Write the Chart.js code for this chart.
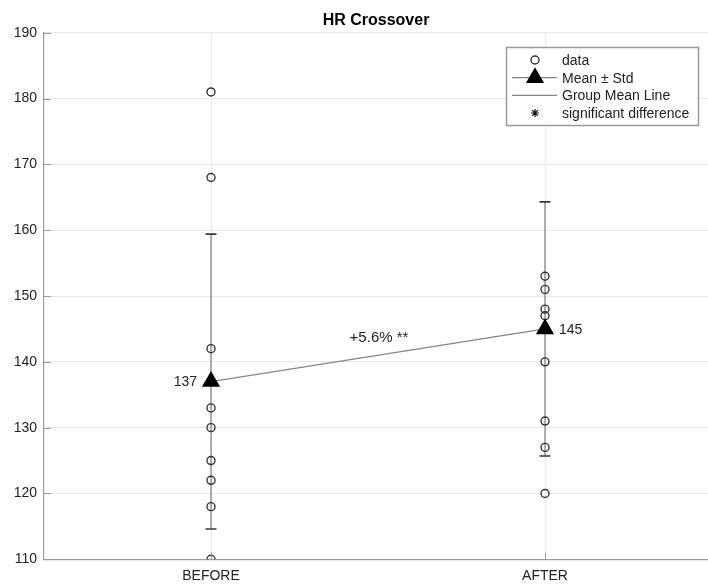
<!DOCTYPE html>
<html>
<head>
<meta charset="utf-8">
<title>HR Crossover</title>
<style>
  html, body { margin: 0; padding: 0; background: #ffffff; }
  #wrap { width: 708px; height: 584px; }
</style>
<script src="https://cdn.jsdelivr.net/npm/chart.js@4"></script>
</head>
<body>
<div id="wrap"><canvas id="hr" width="708" height="584"></canvas></div>
<script>
// Heart rate per subject in each condition
const categories = ['BEFORE', 'AFTER'];
const beforeValues = [181, 168, 142, 133, 130, 125, 122, 118, 110];
const afterValues = [153, 151, 148, 147, 140, 131, 127, 120];
// Group summary (mean and standard deviation)
const meanValues = [137, 145];
const stdValues = [22.4, 19.3];
const meanLabels = ['137', '145'];
const changeLabel = '+5.6% **';
const yTicks = [110, 120, 130, 140, 150, 160, 170, 180, 190];
const legendLabels = ['data', 'Mean \u00b1 Std', 'Group Mean Line', 'significant difference'];
const chartTitle = 'HR Crossover';

const FONT = "'Liberation Sans', Arial, Helvetica, sans-serif";
const TEXT = '#222222';
const AXIS = '#9a9a9a';

const pointsData = [];
beforeValues.forEach(v => pointsData.push({ x: 1, y: v }));
afterValues.forEach(v => pointsData.push({ x: 2, y: v }));

const meanData = meanValues.map((m, i) => ({ x: i + 1, y: m }));

function errorBar(i) {
  return {
    type: 'line',
    data: [
      { x: i + 1, y: meanValues[i] - stdValues[i] },
      { x: i + 1, y: meanValues[i] + stdValues[i] }
    ],
    borderColor: '#858585',
    borderWidth: 1.3,
    pointStyle: 'line',
    pointRadius: 5.5,
    pointBorderColor: '#3a3a3a',
    pointBorderWidth: 1.6,
    pointHoverRadius: 5.5,
    showLine: true,
    fill: false,
    order: 3
  };
}

// Inward MATLAB-style tick marks
const tickMarks = {
  id: 'tickMarks',
  afterDatasetsDraw(chart) {
    const { ctx, chartArea, scales } = chart;
    ctx.save();
    ctx.strokeStyle = AXIS;
    ctx.lineWidth = 1;
    yTicks.forEach(t => {
      const y = Math.round(scales.y.getPixelForValue(t)) + 0.5;
      ctx.beginPath();
      ctx.moveTo(chartArea.left, y);
      ctx.lineTo(chartArea.left + 7, y);
      ctx.stroke();
    });
    categories.forEach((c, i) => {
      const x = Math.round(scales.x.getPixelForValue(i + 1)) + 0.5;
      ctx.beginPath();
      ctx.moveTo(x, chartArea.bottom);
      ctx.lineTo(x, chartArea.bottom - 7);
      ctx.stroke();
    });
    ctx.restore();
  }
};

// Mean values and percent change text
const annotations = {
  id: 'annotations',
  afterDatasetsDraw(chart) {
    const { ctx, scales } = chart;
    ctx.save();
    ctx.fillStyle = TEXT;
    ctx.font = '14px ' + FONT;
    ctx.textBaseline = 'middle';
    const x1 = scales.x.getPixelForValue(1);
    const x2 = scales.x.getPixelForValue(2);
    ctx.textAlign = 'right';
    ctx.fillText(meanLabels[0], x1 - 14, scales.y.getPixelForValue(meanValues[0]) + 1);
    ctx.textAlign = 'left';
    ctx.fillText(meanLabels[1], x2 + 14, scales.y.getPixelForValue(meanValues[1]) + 1);
    ctx.textAlign = 'center';
    ctx.font = '15px ' + FONT;
    const midY = scales.y.getPixelForValue((meanValues[0] + meanValues[1]) / 2);
    ctx.fillText(changeLabel, (x1 + x2) / 2 + 1, midY - 17);
    ctx.restore();
  }
};

// Legend box in the upper right corner
const legendBox = {
  id: 'legendBox',
  afterDraw(chart) {
    const { ctx } = chart;
    const bx = 506, by = 47, bw = 192, bh = 78;
    ctx.save();
    ctx.fillStyle = '#ffffff';
    ctx.fillRect(bx, by, bw, bh);
    ctx.strokeStyle = '#9a9a9a';
    ctx.lineWidth = 1.5;
    ctx.strokeRect(bx + 0.5, by + 0.5, bw, bh);
    const rows = [60, 77.7, 95.4, 113];
    const sx = 535;
    // data: open circle
    ctx.strokeStyle = '#333333';
    ctx.lineWidth = 1.4;
    ctx.beginPath();
    ctx.arc(sx, rows[0], 4, 0, Math.PI * 2);
    ctx.stroke();
    // mean ± std: line with triangle
    ctx.strokeStyle = '#858585';
    ctx.lineWidth = 1.2;
    ctx.beginPath();
    ctx.moveTo(512, rows[1]);
    ctx.lineTo(557, rows[1]);
    ctx.stroke();
    const r = 10.5;
    ctx.fillStyle = '#000000';
    ctx.beginPath();
    ctx.moveTo(sx, rows[1] - r);
    ctx.lineTo(sx + r * Math.sin(Math.PI * 2 / 3), rows[1] + r / 2);
    ctx.lineTo(sx - r * Math.sin(Math.PI * 2 / 3), rows[1] + r / 2);
    ctx.closePath();
    ctx.fill();
    // group mean line
    ctx.strokeStyle = '#858585';
    ctx.beginPath();
    ctx.moveTo(512, rows[2]);
    ctx.lineTo(557, rows[2]);
    ctx.stroke();
    // significant difference: asterisk
    ctx.strokeStyle = '#111111';
    ctx.lineWidth = 1.2;
    const a = 4, d = a * 0.72;
    ctx.beginPath();
    ctx.moveTo(sx, rows[3] - a); ctx.lineTo(sx, rows[3] + a);
    ctx.moveTo(sx - a, rows[3]); ctx.lineTo(sx + a, rows[3]);
    ctx.moveTo(sx - d, rows[3] - d); ctx.lineTo(sx + d, rows[3] + d);
    ctx.moveTo(sx - d, rows[3] + d); ctx.lineTo(sx + d, rows[3] - d);
    ctx.stroke();
    // labels
    ctx.fillStyle = TEXT;
    ctx.font = '14px ' + FONT;
    ctx.textAlign = 'left';
    ctx.textBaseline = 'middle';
    legendLabels.forEach((t, i) => ctx.fillText(t, 562, rows[i] + 1));
    ctx.restore();
  }
};

new Chart(document.getElementById('hr'), {
  type: 'scatter',
  data: {
    datasets: [
      {
        type: 'scatter',
        label: legendLabels[1],
        data: meanData,
        pointStyle: 'triangle',
        pointRadius: 10.5,
        pointHoverRadius: 10.5,
        backgroundColor: '#000000',
        borderColor: '#000000',
        borderWidth: 0,
        order: 0
      },
      {
        type: 'scatter',
        label: legendLabels[0],
        data: pointsData,
        pointStyle: 'circle',
        pointRadius: 4,
        pointHoverRadius: 4,
        backgroundColor: 'rgba(0,0,0,0)',
        borderColor: '#333333',
        borderWidth: 1.4,
        order: 1
      },
      {
        type: 'line',
        label: legendLabels[2],
        data: meanData,
        borderColor: '#858585',
        borderWidth: 1.2,
        pointRadius: 0,
        pointHoverRadius: 0,
        showLine: true,
        fill: false,
        order: 2
      },
      errorBar(0),
      errorBar(1)
    ]
  },
  options: {
    responsive: false,
    animation: false,
    devicePixelRatio: 1,
    events: [],
    layout: { autoPadding: false, padding: { left: 0, right: 0, top: 0, bottom: 0 } },
    plugins: {
      legend: { display: false },
      tooltip: { enabled: false },
      title: {
        display: true,
        text: chartTitle,
        fullSize: false,
        color: '#000000',
        font: { family: FONT, size: 16, weight: 'bold', lineHeight: 1.2 },
        padding: { top: 11, bottom: 2.5 }
      }
    },
    scales: {
      x: {
        type: 'linear',
        min: 0.5,
        max: 2.488,
        afterFit(scale) { scale.height = 24.7; },
        afterBuildTicks(scale) {
          scale.ticks = categories.map((c, i) => ({ value: i + 1 }));
        },
        ticks: {
          autoSkip: false,
          maxRotation: 0,
          padding: 8,
          color: TEXT,
          font: { family: FONT, size: 14 },
          callback: (v) => categories[Math.round(v) - 1] || ''
        },
        grid: { color: '#e8e8e8', lineWidth: 1, drawTicks: false },
        border: { display: true, color: AXIS, width: 1.2 }
      },
      y: {
        type: 'linear',
        min: 110,
        max: 190,
        afterFit(scale) { scale.width = 44; },
        afterBuildTicks(scale) {
          scale.ticks = yTicks.map(v => ({ value: v }));
        },
        ticks: {
          padding: 7,
          color: TEXT,
          font: { family: FONT, size: 14 }
        },
        grid: { color: '#e8e8e8', lineWidth: 1, drawTicks: false },
        border: { display: true, color: AXIS, width: 1.2 }
      }
    }
  },
  plugins: [tickMarks, annotations, legendBox]
});
</script>
</body>
</html>
